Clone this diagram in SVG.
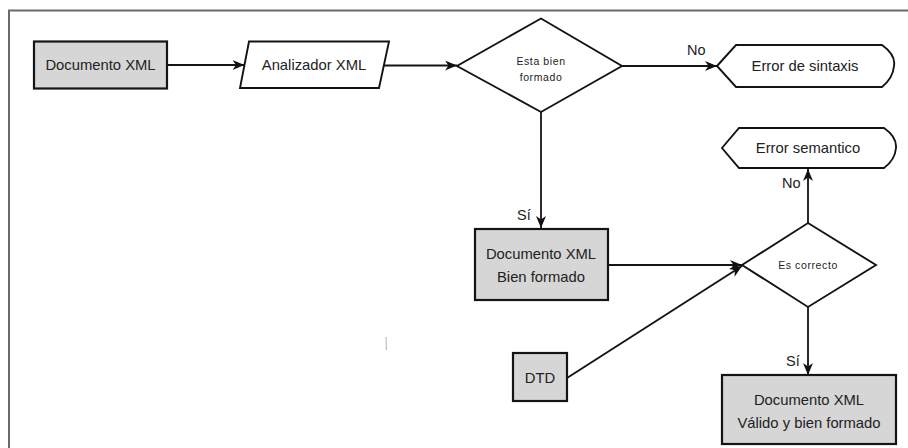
<svg xmlns="http://www.w3.org/2000/svg" width="908" height="448" viewBox="0 0 908 448">
  <defs>
    <marker id="arrow" markerUnits="userSpaceOnUse" markerWidth="14" markerHeight="12" refX="12" refY="5" orient="auto">
      <path d="M0,0 L12,5 L0,10 L3.5,5 z" fill="#111"/>
    </marker>
    <style>
      .doc { fill: #d6d6d6; stroke: #141414; stroke-width: 2.2; }
      .shape { fill: #fff; stroke: #141414; stroke-width: 1.9; }
      .lbl { font-family: "Liberation Sans", Arial, sans-serif; font-size: 14.8px; fill: #222; text-anchor: middle; dominant-baseline: central; }
      .small { font-family: "Liberation Sans", Arial, sans-serif; font-size: 10.5px; letter-spacing: 0.6px; fill: #222; text-anchor: middle; dominant-baseline: central; }
      .edge-lbl { font-family: "Liberation Sans", Arial, sans-serif; font-size: 14.5px; fill: #222; }
      .conn { fill: none; stroke: #141414; stroke-width: 1.8; marker-end: url(#arrow); }
      .frame { fill: none; stroke: #6a6a6a; stroke-width: 2; }
    </style>
  </defs>

  <rect width="908" height="448" fill="#fff"/>

  <!-- page frame -->
  <path class="frame" d="M9,448 L9,10.5 L908,10.5"/>
  <line x1="386" y1="337" x2="386.5" y2="350" stroke="#bdbdbd" stroke-width="1.2"/>

  <!-- connectors -->
  <g id="connectors">
    <line class="conn" x1="167" y1="65" x2="244.5" y2="65"/>
    <line class="conn" x1="384" y1="65.5" x2="457" y2="65.5"/>
    <line class="conn" x1="622" y1="66" x2="717" y2="66"/>
    <line class="conn" x1="541" y1="112" x2="541" y2="228"/>
    <line class="conn" x1="608" y1="265" x2="742" y2="265"/>
    <line class="conn" x1="567" y1="378" x2="742" y2="266"/>
    <line class="conn" x1="808" y1="223" x2="808" y2="169"/>
    <line class="conn" x1="808" y1="307" x2="808" y2="375"/>
    <text class="edge-lbl" x="687" y="55">No</text>
    <text class="edge-lbl" x="517" y="220">Sí</text>
    <text class="edge-lbl" x="782" y="188">No</text>
    <text class="edge-lbl" x="786" y="366">Sí</text>
  </g>

  <g id="doc-xml">
    <rect class="doc" x="34" y="41.5" width="133" height="47"/>
    <text class="lbl" x="100.5" y="65">Documento XML</text>
  </g>

  <g id="analizador">
    <path class="shape" d="M249,41.5 L389,41.5 L379,88 L240,88 z"/>
    <text class="lbl" x="314" y="65">Analizador XML</text>
  </g>

  <g id="bien-formado-check">
    <path class="shape" d="M541,18.5 L622,66 L541,112 L457,66 z"/>
    <text class="small" x="541" y="61">Esta bien</text>
    <text class="small" x="541" y="77">formado</text>
  </g>

  <g id="error-sintaxis">
    <path class="shape" d="M717,66 L736,45 L882,45 Q896,55 894,66 Q893,78 882,87 L736,87 z"/>
    <text class="lbl" x="805" y="66">Error de sintaxis</text>
  </g>

  <g id="doc-bien-formado">
    <rect class="doc" x="475" y="229" width="133" height="71"/>
    <text class="lbl" x="541" y="254">Documento XML</text>
    <text class="lbl" x="541" y="277">Bien formado</text>
  </g>

  <g id="correcto-check">
    <path class="shape" d="M808,223 L876,265 L808,307 L742,265 z"/>
    <text class="small" x="808" y="265">Es correcto</text>
  </g>

  <g id="error-semantico">
    <path class="shape" d="M722,148 L739,128 L884,128 Q897,137 896,148 Q895,160 884,168 L739,168 z"/>
    <text class="lbl" x="808" y="148">Error semantico</text>
  </g>

  <g id="dtd">
    <rect class="doc" x="513" y="353" width="54" height="48"/>
    <text class="lbl" x="540" y="378">DTD</text>
  </g>

  <g id="doc-valido">
    <rect class="doc" x="722" y="375" width="174" height="69"/>
    <text class="lbl" x="809" y="400">Documento XML</text>
    <text class="lbl" x="809" y="423">Válido y bien formado</text>
  </g>
</svg>
